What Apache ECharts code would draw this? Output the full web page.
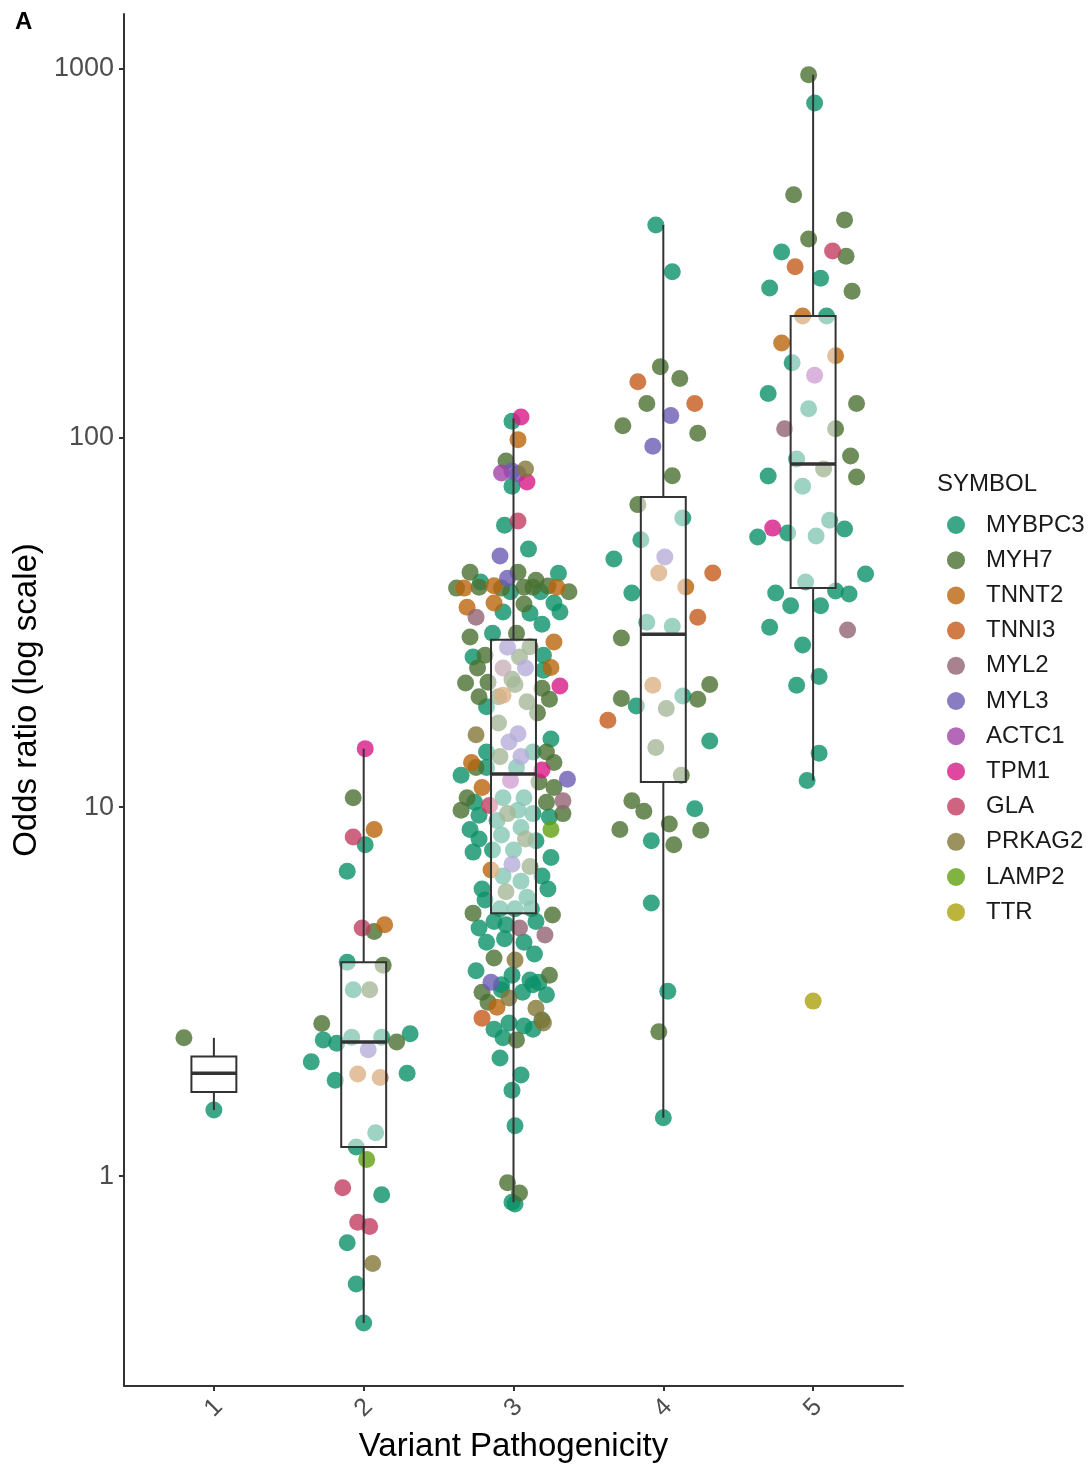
<!DOCTYPE html>
<html>
<head>
<meta charset="utf-8">
<script src="https://cdn.jsdelivr.net/npm/echarts@6/dist/echarts.min.js"></script>
<style>
  html, body { margin: 0; padding: 0; background: #ffffff; }
  #chart { width: 1091px; height: 1464px; }
</style>
</head>
<body>
<div id="chart"></div>
<script>
// Variant pathogenicity classes on the x axis
const pathogenicity = [1, 2, 3, 4, 5];
const yTickValues = [1, 10, 100, 1000];

// Gene symbols in legend order
const symbols = ['MYBPC3', 'MYH7', 'TNNT2', 'TNNI3', 'MYL2', 'MYL3', 'ACTC1', 'TPM1', 'GLA', 'PRKAG2', 'LAMP2', 'TTR'];

// Each variant: [pathogenicity class, horizontal jitter, odds ratio]
const MYBPC3 = [
  [1, 0, 1.51],
  [2, 0.01, 7.9], [2, -0.11, 6.7], [2, -0.11, 3.8], [2, -0.07, 3.2], [2, -0.27, 2.34], [2, -0.18, 2.29],
  [2, -0.08, 2.38], [2, 0.12, 2.38], [2, 0.31, 2.43], [2, -0.35, 2.04], [2, -0.19, 1.82], [2, 0.29, 1.9],
  [2, 0.08, 1.31], [2, -0.05, 1.2], [2, 0.12, 0.89], [2, -0.11, 0.66], [2, -0.05, 0.51], [2, 0, 0.4],
  [3, -0.01, 111], [3, -0.01, 74], [3, -0.06, 58], [3, 0.1, 50], [3, 0.3, 43], [3, -0.22, 40.7],
  [3, -0.02, 38.3], [3, 0.18, 38.3], [3, -0.07, 33.8], [3, 0.11, 33.5], [3, 0.27, 35.7], [3, 0.31, 33.8],
  [3, 0.19, 31.3], [3, -0.14, 29.6], [3, -0.27, 25.5], [3, 0.2, 25.8], [3, 0.2, 23.5], [3, -0.18, 18.7],
  [3, 0.25, 15.3], [3, -0.18, 14.1], [3, 0.13, 14.1], [3, -0.18, 12.8], [3, -0.35, 12.2], [3, 0.02, 12.8],
  [3, -0.26, 10.3], [3, -0.07, 10.6], [3, 0.07, 10.6], [3, -0.23, 9.5], [3, 0.03, 9.8], [3, 0.13, 9.6],
  [3, 0.24, 9.4], [3, -0.11, 9.2], [3, -0.29, 8.7], [3, 0.05, 8.8], [3, -0.23, 8.2], [3, -0.08, 8.4],
  [3, 0.15, 8.1], [3, -0.14, 7.65], [3, -0.27, 7.55], [3, 0, 7.65], [3, 0.25, 7.3], [3, 0.19, 6.5],
  [3, -0.07, 6.5], [3, 0.05, 6.3], [3, -0.21, 6.0], [3, 0.23, 6.0], [3, 0.09, 5.7], [3, -0.19, 5.6],
  [3, -0.09, 5.3], [3, 0.01, 5.3], [3, 0.12, 5.3], [3, -0.23, 4.7], [3, -0.13, 4.9], [3, -0.05, 4.8],
  [3, 0.15, 4.9], [3, -0.18, 4.3], [3, -0.06, 4.4], [3, 0.07, 4.3], [3, 0.14, 4.0], [3, -0.25, 3.6],
  [3, -0.08, 3.3], [3, -0.01, 3.5], [3, 0.11, 3.4], [3, 0.17, 3.35], [3, -0.08, 3.2], [3, 0.06, 3.15],
  [3, 0.13, 3.3], [3, 0.22, 3.1], [3, -0.13, 2.5], [3, -0.03, 2.6], [3, 0.07, 2.55], [3, 0.13, 2.5],
  [3, -0.07, 2.37], [3, -0.09, 2.09], [3, 0.05, 1.88], [3, -0.01, 1.71], [3, 0.01, 1.37], [3, -0.01, 0.85],
  [3, 0.01, 0.84],
  [4, -0.05, 378], [4, 0.06, 282], [4, 0.13, 60.7], [4, -0.33, 47], [4, -0.15, 53], [4, -0.21, 38],
  [4, -0.11, 31.7], [4, 0.06, 30.9], [4, -0.18, 18.8], [4, 0.13, 20], [4, 0.31, 15.1], [4, 0.21, 9.9],
  [4, -0.08, 8.1], [4, -0.08, 5.5], [4, 0.03, 3.17], [4, 0, 1.44],
  [5, 0.01, 809], [5, -0.21, 319], [5, 0.05, 271], [5, -0.29, 255], [5, 0.09, 214], [5, -0.14, 160],
  [5, -0.3, 132], [5, -0.03, 120], [5, -0.11, 87.7], [5, -0.3, 78.9], [5, -0.07, 74], [5, -0.37, 53.9],
  [5, -0.17, 55.3], [5, 0.02, 54.3], [5, 0.11, 59.9], [5, 0.21, 56.7], [5, 0.35, 42.8], [5, -0.05, 40.7],
  [5, -0.25, 38], [5, 0.15, 38.5], [5, 0.24, 37.8], [5, -0.15, 35.1], [5, 0.05, 35.1], [5, -0.29, 30.7],
  [5, -0.07, 27.5], [5, 0.04, 22.6], [5, -0.11, 21.4], [5, 0.04, 14], [5, -0.04, 11.8]
];
const MYH7 = [
  [1, -0.2, 2.37],
  [2, -0.07, 10.6], [2, 0.07, 4.6], [2, 0.13, 3.73], [2, 0.04, 3.2], [2, -0.28, 2.59], [2, 0.22, 2.31],
  [3, -0.05, 86.6], [3, -0.29, 43.3], [3, 0.03, 43.3], [3, 0.15, 41.2], [3, -0.38, 39.2], [3, -0.23, 39.4],
  [3, -0.08, 39.2], [3, 0.07, 39.4], [3, 0.13, 39.4], [3, 0.23, 39.7], [3, 0.37, 38.3], [3, 0.07, 35.5],
  [3, -0.29, 28.9], [3, 0.02, 29.6], [3, 0.11, 27.2], [3, -0.19, 25.8], [3, 0.04, 25.5], [3, -0.24, 23.8],
  [3, -0.32, 21.7], [3, -0.17, 21.8], [3, -0.01, 22.2], [3, 0.19, 21.0], [3, -0.23, 19.9], [3, -0.1, 19.9],
  [3, 0.01, 21.5], [3, 0.09, 19.3], [3, 0.24, 19.6], [3, 0.16, 18], [3, -0.1, 16.9], [3, 0.22, 14.1],
  [3, -0.25, 12.8], [3, -0.09, 13.7], [3, 0.27, 13.2], [3, 0.17, 11.7], [3, 0.27, 11.3], [3, -0.31, 10.6],
  [3, 0.22, 10.3], [3, -0.35, 9.8], [3, -0.04, 9.6], [3, 0.33, 9.6], [3, 0.08, 8.2], [3, 0.11, 6.9],
  [3, -0.05, 5.9], [3, -0.27, 5.16], [3, 0.26, 5.1], [3, -0.13, 3.9], [3, 0.24, 3.5], [3, -0.21, 3.15],
  [3, -0.17, 2.96], [3, 0.19, 2.65], [3, 0.02, 2.34], [3, -0.04, 0.96], [3, 0.04, 0.9],
  [4, -0.02, 156], [4, 0.11, 145], [4, -0.11, 124], [4, -0.27, 108], [4, 0.23, 103], [4, 0.06, 79],
  [4, -0.17, 66], [4, -0.28, 28.7], [4, 0.31, 21.5], [4, -0.28, 19.7], [4, 0.02, 18.5], [4, 0.23, 19.6],
  [4, -0.05, 14.5], [4, 0.12, 12.2], [4, -0.21, 10.4], [4, -0.13, 9.75], [4, -0.29, 8.7], [4, 0.04, 9.0],
  [4, 0.25, 8.65], [4, 0.07, 7.9], [4, -0.03, 2.46],
  [5, -0.03, 964], [5, -0.13, 456], [5, 0.21, 390], [5, -0.03, 346], [5, 0.22, 311], [5, 0.26, 250],
  [5, 0.29, 124], [5, 0.15, 106], [5, 0.25, 89.4], [5, 0.07, 82.4], [5, 0.29, 78.4]
];
const TNNT2 = [
  [2, 0.07, 8.7], [2, 0.14, 4.8], [2, -0.04, 1.89], [2, 0.11, 1.85],
  [3, 0.03, 99], [3, -0.33, 39.2], [3, -0.13, 39.8], [3, 0.29, 39.4], [3, -0.31, 34.8], [3, -0.13, 35.7],
  [3, 0.27, 28], [3, 0.25, 23.9], [3, -0.07, 20.1], [3, -0.28, 13.2], [3, -0.21, 11.3], [3, -0.15, 6.75],
  [3, -0.11, 2.87],
  [4, 0.15, 39.5], [4, -0.03, 43.1], [4, -0.07, 21.4],
  [5, -0.07, 214], [5, -0.21, 181], [5, 0.15, 167]
];
const TNNI3 = [
  [3, -0.21, 2.68],
  [4, -0.17, 142], [4, 0.21, 124], [4, 0.33, 43.1], [4, 0.23, 32.7], [4, -0.37, 17.2],
  [5, -0.12, 291]
];
const MYL2 = [
  [3, -0.25, 32.7], [3, -0.07, 23.8], [3, 0.33, 10.4], [3, 0.04, 4.7], [3, 0.21, 4.5],
  [5, -0.19, 106], [5, 0.23, 30.2]
];
const MYL3 = [
  [2, 0.03, 2.2],
  [3, -0.01, 81.4], [3, 0.03, 80], [3, -0.09, 47.9], [3, -0.04, 41.7], [3, -0.04, 27.1], [3, 0.08, 23.8],
  [3, 0.03, 15.8], [3, -0.03, 15.0], [3, 0.05, 13.7], [3, 0.36, 11.9], [3, -0.01, 7.0], [3, -0.15, 3.35],
  [4, 0.05, 115], [4, -0.07, 95], [4, 0.01, 47.6]
];
const ACTC1 = [
  [3, -0.08, 80.4], [3, -0.02, 11.8],
  [5, 0.01, 148]
];
const TPM1 = [
  [2, 0.01, 14.4],
  [3, 0.05, 114], [3, 0.09, 76], [3, 0.31, 21.3], [3, 0.19, 12.6],
  [5, -0.27, 57]
];
const GLA = [
  [2, -0.07, 8.3], [2, -0.01, 4.7], [2, -0.14, 0.93], [2, -0.04, 0.75], [2, 0.04, 0.73],
  [3, 0.03, 59.6], [3, -0.16, 10.1],
  [5, 0.13, 321]
];
const PRKAG2 = [
  [2, 0.06, 0.58],
  [3, 0.08, 82.4], [3, -0.25, 15.7], [3, 0.01, 3.85], [3, -0.03, 3.04], [3, 0.15, 2.85], [3, 0.2, 2.6]
];
const LAMP2 = [
  [2, 0.02, 1.11],
  [3, 0.25, 8.7]
];
const TTR = [
  [5, 0, 2.98]
];

// Box plot summaries per pathogenicity class
const boxLow    = [1.51, 0.40, 0.85, 1.44, 11.8];
const boxQ1     = [1.69, 1.20, 5.16, 11.7, 39.2];
const boxMedian = [1.90, 2.31, 12.3, 29.4, 85.1];
const boxQ3     = [2.11, 3.80, 28.4, 69.2, 214];
const boxHigh   = [2.37, 14.4, 113, 378, 964];

const genePoints = { MYBPC3, MYH7, TNNT2, TNNI3, MYL2, MYL3, ACTC1, TPM1, GLA, PRKAG2, LAMP2, TTR };

const symbolColors = {
  MYBPC3: '#0b9168', MYH7: '#4a7031', TNNT2: '#ba640c', TNNI3: '#c65a1c',
  MYL2: '#926373', MYL3: '#6d5bb4', ACTC1: '#a142a6', TPM1: '#d81a87',
  GLA: '#c33d61', PRKAG2: '#827738', LAMP2: '#60a00f', TTR: '#ada10d'
};

const fontFamily = '"Liberation Sans", Arial, Helvetica, sans-serif';
const chart = echarts.init(document.getElementById('chart'), null, { renderer: 'canvas' });

const scatterSeries = symbols.map(name => ({
  name,
  type: 'scatter',
  symbol: 'circle',
  symbolSize: 17,
  z: 2,
  silent: true,
  itemStyle: { color: symbolColors[name], opacity: 0.8 },
  data: genePoints[name].map(([cls, jitter, or]) => [cls + jitter, or])
}));

const boxSeries = {
  type: 'custom',
  z: 5,
  silent: true,
  data: pathogenicity.map((cls, i) => [cls, boxLow[i], boxQ1[i], boxMedian[i], boxQ3[i], boxHigh[i]]),
  encode: { x: 0, y: [1, 2, 3, 4, 5] },
  renderItem(params, api) {
    const x = api.value(0);
    const halfWidth = 0.15;
    const pLow = api.coord([x, api.value(1)]);
    const pQ1 = api.coord([x, api.value(2)]);
    const pMed = api.coord([x, api.value(3)]);
    const pQ3 = api.coord([x, api.value(4)]);
    const pHigh = api.coord([x, api.value(5)]);
    const left = api.coord([x - halfWidth, api.value(3)])[0];
    const right = api.coord([x + halfWidth, api.value(3)])[0];
    const stroke = '#333333';
    return {
      type: 'group',
      children: [
        { type: 'line', shape: { x1: pLow[0], y1: pLow[1], x2: pQ1[0], y2: pQ1[1] }, style: { stroke, lineWidth: 2 } },
        { type: 'line', shape: { x1: pQ3[0], y1: pQ3[1], x2: pHigh[0], y2: pHigh[1] }, style: { stroke, lineWidth: 2 } },
        { type: 'rect', shape: { x: left, y: pQ3[1], width: right - left, height: pQ1[1] - pQ3[1] },
          style: { fill: 'rgba(255,255,255,0.5)', stroke, lineWidth: 2 } },
        { type: 'line', shape: { x1: left, y1: pMed[1], x2: right, y2: pMed[1] }, style: { stroke, lineWidth: 3.5 } }
      ]
    };
  }
};

chart.setOption({
  backgroundColor: '#ffffff',
  animation: false,
  textStyle: { fontFamily },
  title: [
    { text: 'A', left: 15, top: 10, padding: 0,
      textStyle: { fontSize: 24, fontWeight: 'bold', color: '#000', fontFamily } },
    { text: 'SYMBOL', left: 937, top: 472, padding: 0,
      textStyle: { fontSize: 24, fontWeight: 'normal', color: '#1a1a1a', fontFamily } }
  ],
  legend: {
    data: symbols,
    orient: 'vertical',
    left: 947,
    top: 513,
    padding: 0,
    icon: 'circle',
    itemWidth: 50,
    itemHeight: 18,
    itemGap: 11.2,
    selectedMode: false,
    textStyle: { fontSize: 24, lineHeight: 24, color: '#1a1a1a', fontFamily }
  },
  grid: { left: 124, right: 188, top: 14, bottom: 78, outerBoundsMode: 'none' },
  xAxis: {
    type: 'value',
    min: 0.4,
    max: 5.6,
    name: 'Variant Pathogenicity',
    nameLocation: 'middle',
    nameGap: 44,
    nameTextStyle: { fontSize: 33, color: '#000', fontFamily },
    axisLine: { show: true, onZero: false, lineStyle: { color: '#333', width: 2 } },
    axisTick: { show: true, length: 5, lineStyle: { color: '#333', width: 2 }, customValues: pathogenicity },
    axisLabel: {
      customValues: pathogenicity,
      rotate: 45,
      align: 'center',
      verticalAlign: 'middle',
      margin: 22,
      fontSize: 25,
      color: '#4d4d4d',
      fontFamily,
      formatter: v => String(v)
    },
    splitLine: { show: false }
  },
  yAxis: {
    type: 'log',
    logBase: 10,
    min: 0.27,
    max: 1409,
    name: 'Odds ratio (log scale)',
    nameLocation: 'middle',
    nameGap: 76,
    nameRotate: 90,
    nameTextStyle: { fontSize: 33, color: '#000', fontFamily },
    axisLine: { show: true, onZero: false, lineStyle: { color: '#333', width: 2 } },
    axisTick: { show: true, length: 5, lineStyle: { color: '#333', width: 2 }, customValues: yTickValues },
    axisLabel: {
      customValues: yTickValues,
      margin: 10,
      fontSize: 27,
      color: '#4d4d4d',
      fontFamily,
      formatter: v => String(Math.round(v))
    },
    splitLine: { show: false }
  },
  series: [...scatterSeries, boxSeries]
});
</script>
</body>
</html>
